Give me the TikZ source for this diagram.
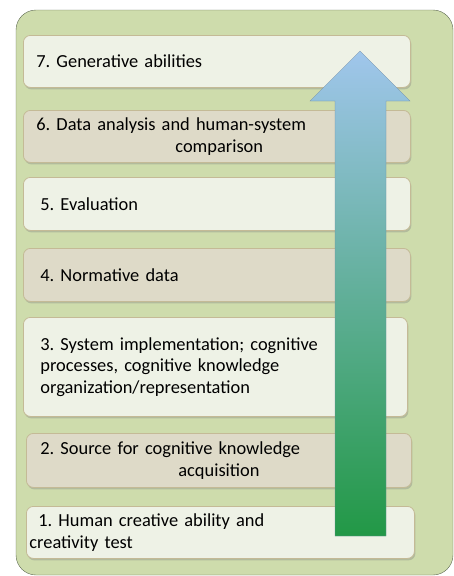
\documentclass[tikz,border=0pt]{standalone}
\usepackage{fontspec}
\setmainfont{Carlito}
\usetikzlibrary{shadows}
\definecolor{framefill}{RGB}{206,220,172}
\definecolor{frameline}{RGB}{96,108,84}
\definecolor{lightbox}{RGB}{238,242,230}
\definecolor{darkbox}{RGB}{222,218,200}
\definecolor{boxline}{RGB}{196,186,150}
\definecolor{arrowtop}{RGB}{160,198,236}
\definecolor{arrowmid}{RGB}{108,176,176}
\definecolor{arrowbot}{RGB}{34,152,70}
\tikzset{
  stage/.style={rectangle, rounded corners=7pt, draw=boxline, line width=0.8pt,
                anchor=north west, align=left, inner ysep=0pt,
                font=\fontsize{18.4}{21.5}\selectfont\frenchspacing,
                drop shadow={shadow xshift=1pt, shadow yshift=-2pt, opacity=0.35}},
  light/.style={stage, fill=lightbox},
  dark/.style={stage, fill=darkbox}
}

\begin{document}
\begin{tikzpicture}[x=1pt, y=-1pt]
\useasboundingbox (0,0) rectangle (454,576);
% outer panel
\draw[frameline, fill=framefill, rounded corners=20pt] (16,10) rectangle (453,575);
% the seven stages, top to bottom
\node[light, minimum height=52pt, inner xsep=13pt, text width=361pt] (s7) at (23,35)
  {7. Generative abilities};
\node[dark,  minimum height=52pt, inner xsep=13pt, text width=361pt] (s6) at (23,110)
  {6. Data analysis and human-system\\\hspace*{139pt}comparison};
\node[light, minimum height=53pt, inner xsep=17pt, text width=353pt] (s5) at (23,177)
  {5. Evaluation};
\node[dark,  minimum height=53pt, inner xsep=17pt, text width=353pt] (s4) at (23,248)
  {4. Normative data};
\node[light, minimum height=99pt, inner xsep=17pt, text width=350pt] (s3) at (23,317)
  {3. System implementation; cognitive\\processes, cognitive knowledge\\organization/representation};
\node[dark,  minimum height=54pt, inner xsep=14pt, text width=357pt] (s2) at (26,433)
  {2. Source for cognitive knowledge\\\hspace*{138pt}acquisition};
\node[light, minimum height=52pt, inner xsep=3pt, text width=382pt] (s1) at (26,506)
  {\hspace*{9pt}1. Human creative ability and\\creativity test};
% upward arrow
\shade[top color=arrowtop, middle color=arrowmid, bottom color=arrowbot, draw=arrowtop!70!black, line width=0.3pt]
  (335,536) -- (335,101) -- (310,101) -- (360,51) -- (410,101) -- (386,101) -- (386,536) -- cycle;
\end{tikzpicture}
\end{document}
